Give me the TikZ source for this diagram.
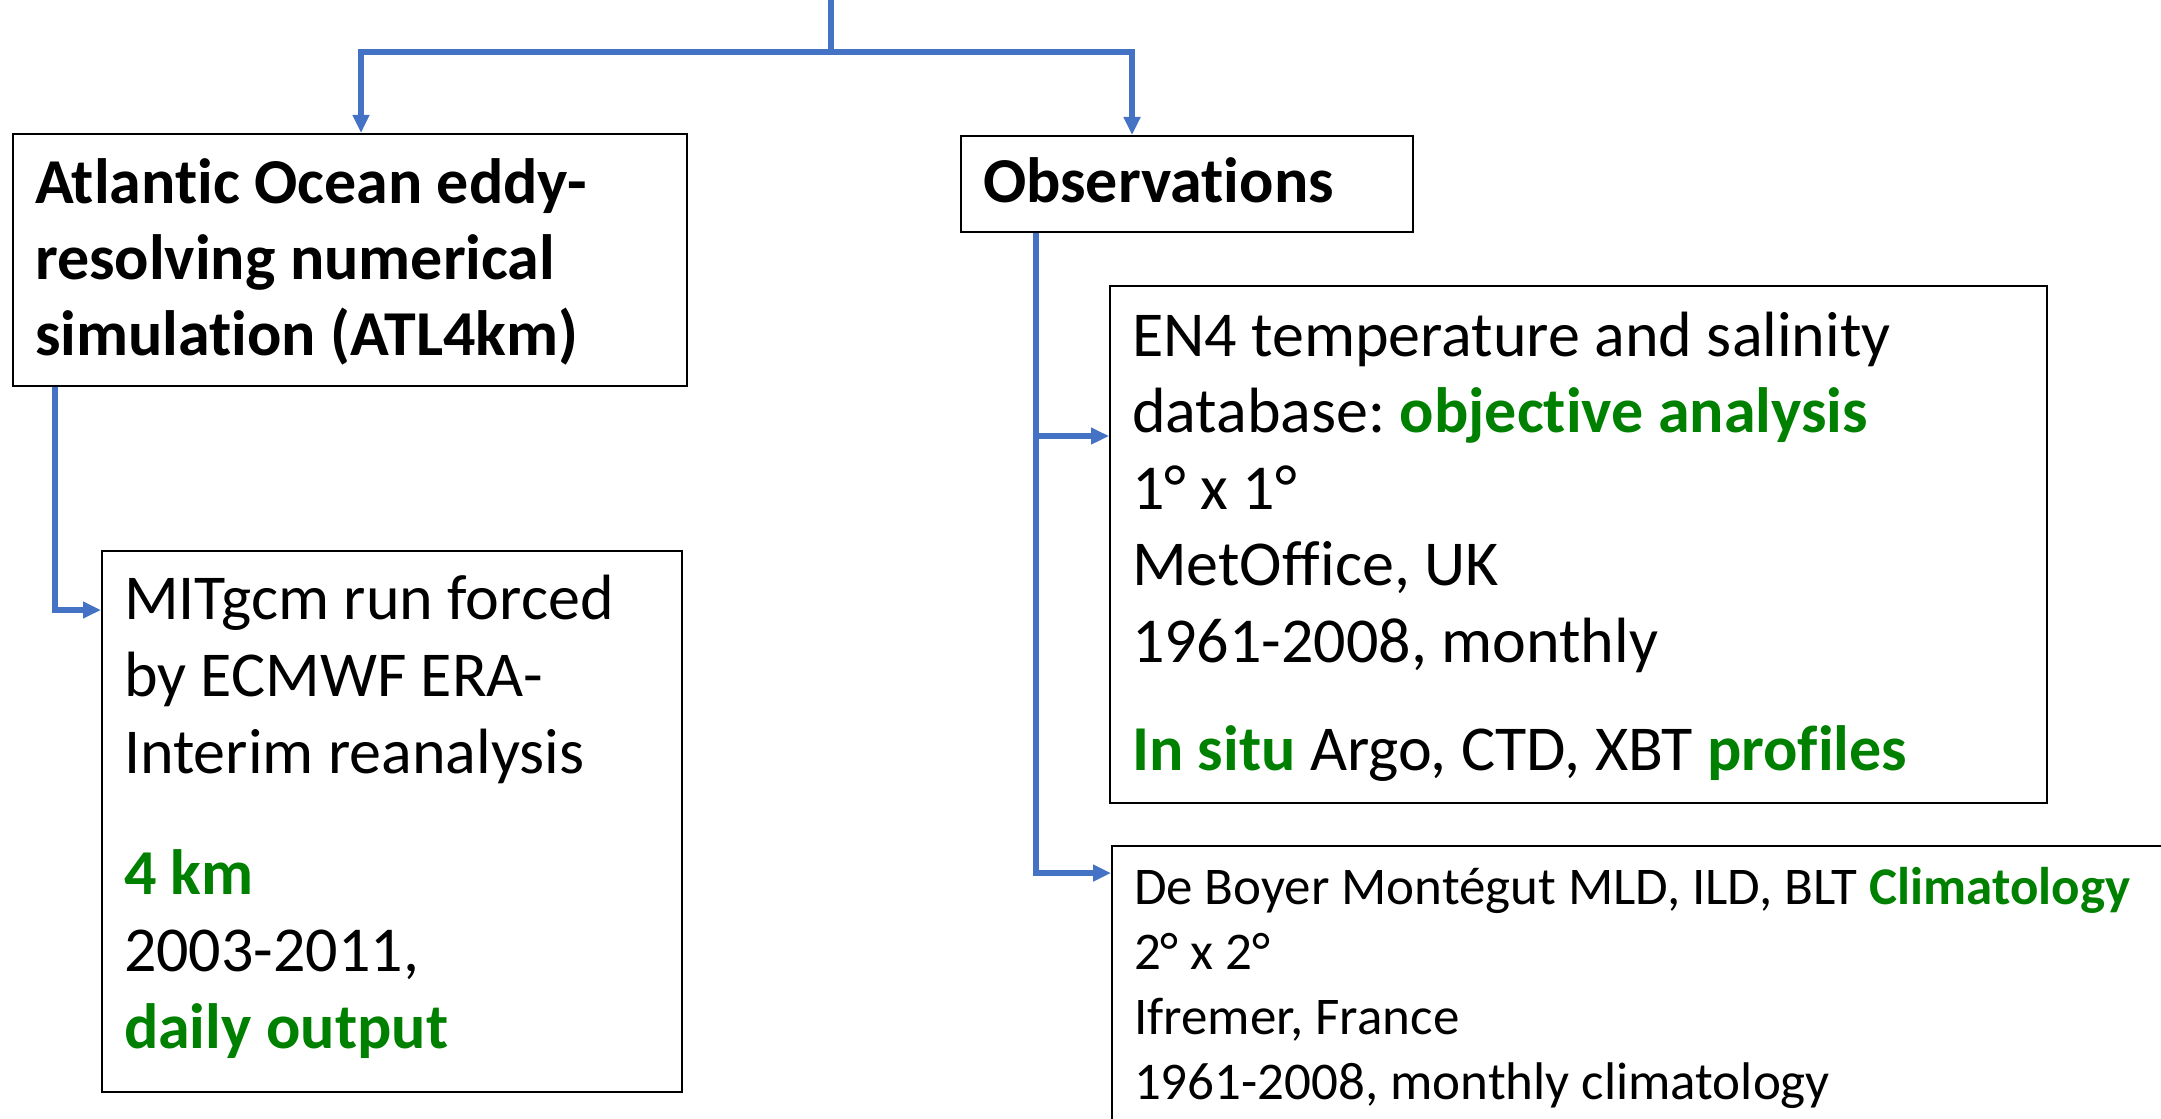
\documentclass[tikz,border=0pt]{standalone}
\usepackage{fontspec}
\setmainfont{Carlito}[Ligatures=NoCommon]
\usepackage{xcolor}
\definecolor{linkblue}{RGB}{68,114,196}
\definecolor{keygreen}{RGB}{0,128,0}
\usetikzlibrary{arrows.meta}
\newcommand{\keyterm}[1]{\textbf{\color{keygreen}#1}}
% top-aligned box text: width, height, first baseline, font size, line skip, lines
\newcommand{\boxtext}[6]{\parbox[t][#2][t]{#1}{\raggedright\frenchspacing
  \fontsize{#4}{#5}\selectfont\rule{0pt}{#3}#6}}

\begin{document}
\begin{tikzpicture}[
  x=0.5pt, y=-0.5pt,
  box/.style  = {rectangle, draw=black, line width=1pt, anchor=north west,
                 inner xsep=11pt, inner ysep=0pt},
  link/.style = {line width=2.6pt, linkblue},
  arr/.style  = {link, -{Triangle[length=9pt, width=8pt]}},
]
\useasboundingbox (0,0) rectangle (2161,1118);
\node[box] (atl) at (12,133) {\boxtext{315pt}{126pt}{35pt}{32pt}{38pt}{\bfseries
  Atlantic Ocean eddy-\\resolving numerical\\simulation (ATL4km)}};
\node[box] (obs) at (960,135) {\boxtext{204pt}{48pt}{33.5pt}{32pt}{38pt}{\bfseries
  Observations}};
\node[box] (mit) at (101,550) {\boxtext{268pt}{270.5pt}{34pt}{32pt}{38.5pt}{%
  MITgcm run forced\\by ECMWF ERA-\\Interim reanalysis\\[22pt]
  \keyterm{4 km}\\2003-2011,\\\keyterm{daily output}}};
\node[box] (en4) at (1109,285) {\boxtext{446.5pt}{258.5pt}{35pt}{32pt}{38.25pt}{%
  EN4 temperature and salinity\\database: \keyterm{objective analysis}\\
  1° x 1°\\MetOffice, UK\\1961-2008, monthly\\[16pt]
  \keyterm{In situ} Argo, CTD, XBT \keyterm{profiles}}};
\node[box] (dbm) at (1111,845) {\boxtext{528pt}{150pt}{29pt}{26.5pt}{32.5pt}{%
  De Boyer Montégut MLD, ILD, BLT \keyterm{Climatology}\\2° x 2°\\
  Ifremer, France\\1961-2008, monthly climatology}};
% connectors
\coordinate (src) at (831,0);
\coordinate (split) at (831,52);
\draw[link] (src) -- (split);
\draw[arr] (split) -| ([xshift=5.5pt]atl.north);
\draw[arr] (split) -| ([xshift=-27.5pt]obs.north);
\draw[arr] ([xshift=21.5pt]atl.south west) |- ([yshift=-30pt]mit.north west);
\draw[arr] ([xshift=38pt]obs.south west) |- ([yshift=-75.5pt]en4.north west);
\draw[arr] ([xshift=38pt]obs.south west) |- ([yshift=-14pt]dbm.north west);
\end{tikzpicture}
\end{document}
